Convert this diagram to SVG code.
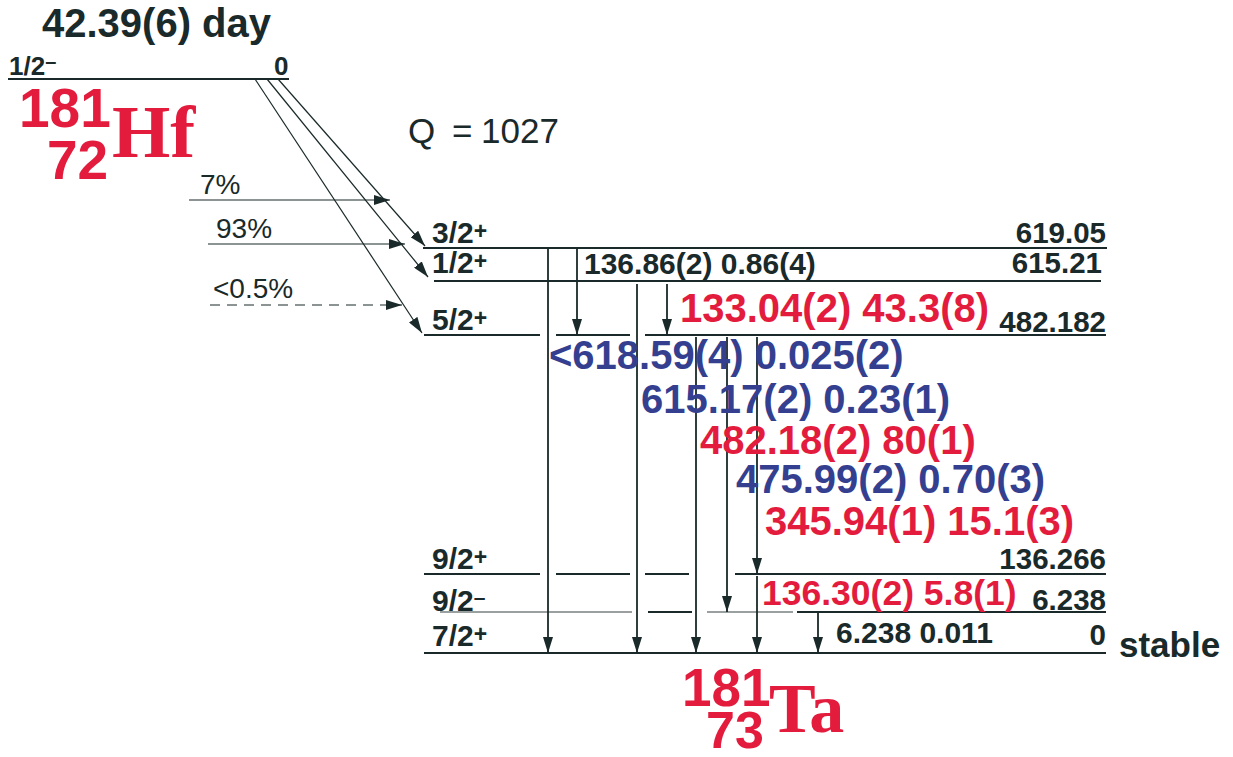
<svg xmlns="http://www.w3.org/2000/svg" width="1233" height="757" viewBox="0 0 1233 757">
<defs>
<marker id="ah" markerUnits="userSpaceOnUse" markerWidth="16" markerHeight="10" refX="16" refY="5" orient="auto"><path d="M0,0 L16,5 L0,10 z" fill="#1a2929"/></marker>
</defs>
<style>
.t{font-family:"Liberation Sans",Arial,sans-serif;font-weight:bold;fill:#1a2929}
.n{font-family:"Liberation Sans",Arial,sans-serif;font-weight:normal;fill:#1a2929}
.s{font-family:"Liberation Serif","Times New Roman",serif;font-weight:bold;fill:#e31c3d}
.r{fill:#e31c3d}
.b{fill:#353f90}
.lv{stroke:#1a2929;stroke-width:2;fill:none}
.lg{stroke:#7a8080;stroke-width:1.5;fill:none}
.g{stroke:#1a2929;stroke-width:1.8;fill:none;marker-end:url(#ah)}
.d{stroke:#1a2929;stroke-width:1.2;fill:none;marker-end:url(#ah)}
</style>
<rect width="1233" height="757" fill="#ffffff"/>

<g id="parent">
<text class="t" x="42" y="37" font-size="40">42.39(6) day</text>
<path class="lv" d="M8,79 H289"/>
<text class="t" x="9" y="75" font-size="26">1/2<tspan font-size="20" dy="-7">–</tspan></text>
<text class="t" x="274" y="75" font-size="26">0</text>
<text class="t r" x="19" y="127" font-size="55">181</text>
<text class="t r" x="47" y="179" font-size="55">72</text>
<text class="s" x="112" y="157" font-size="75">Hf</text>
</g>

<g id="qvalue">
<text class="n" y="143" font-size="35"><tspan x="408">Q</tspan><tspan x="452">=</tspan><tspan x="481">1027</tspan></text>
</g>

<g id="branches">
<text class="n" x="200" y="194" font-size="28">7%</text>
<text class="n" x="216" y="238" font-size="28">93%</text>
<text class="n" x="213" y="298" font-size="28">&lt;0.5%</text>
</g>

<g id="level-619">
<path class="lv" d="M423,248 H1107"/>
<text class="t" x="432" y="243" font-size="30">3/2<tspan font-size="23" dy="-4">+</tspan></text>
<text class="t" x="1106" y="243" font-size="29.5" text-anchor="end">619.05</text>
</g>
<g id="level-615">
<path class="lv" d="M434,281 H1101"/>
<text class="t" x="432" y="273" font-size="30">1/2<tspan font-size="23" dy="-4">+</tspan></text>
<text class="t" x="1102" y="273" font-size="29.5" text-anchor="end">615.21</text>
</g>
<g id="level-482">
<path class="lv" d="M424,335 H540 M556,335 H630 M645,335 H1106"/>
<text class="t" x="432" y="330" font-size="30">5/2<tspan font-size="23" dy="-4">+</tspan></text>
<text class="t" x="1106" y="332" font-size="29.5" text-anchor="end">482.182</text>
</g>
<g id="level-136">
<path class="lv" d="M424,574 H540 M556,574 H630 M645,574 H689 M735,574 H1106"/>
<text class="t" x="432" y="569" font-size="30">9/2<tspan font-size="23" dy="-4">+</tspan></text>
<text class="t" x="1106" y="569" font-size="29.5" text-anchor="end">136.266</text>
</g>
<g id="level-6">
<path class="lg" d="M440,612 H632 M707,612 H793"/>
<path class="lv" d="M648,612 H692 M797,612 H1106"/>
<text class="t" x="432" y="611" font-size="30">9/2<tspan font-size="21" dy="-7">–</tspan></text>
<text class="t" x="1106" y="610" font-size="29.5" text-anchor="end">6.238</text>
</g>
<g id="level-0">
<path class="lv" d="M424,653 H1106"/>
<text class="t" x="432" y="646" font-size="30">7/2<tspan font-size="23" dy="-4">+</tspan></text>
<text class="t" x="1106" y="645" font-size="29.5" text-anchor="end">0</text>
<text class="t" x="1119" y="657" font-size="35">stable</text>
</g>

<g id="daughter">
<text class="t r" x="682" y="706" font-size="53">181</text>
<text class="t r" x="706" y="748" font-size="52">73</text>
<text class="s" x="769" y="732" font-size="70">Ta</text>
</g>

<g id="connectors">
<path class="d" d="M278,79 L425,246"/>
<path class="d" d="M267,79 L428,277"/>
<path class="d" d="M255,79 L422,333"/>
<path class="d" d="M189,200 H390"/>
<path class="d" d="M208,244 H405"/>
<path class="d" d="M210,305 H402" stroke-dasharray="10,7"/>
<path class="g" d="M548,248 V653"/>
<path class="g" d="M577,248 V335"/>
<path class="g" d="M637,284 V653"/>
<path class="g" d="M667,284 V335"/>
<path class="g" d="M696,337 V653"/>
<path class="g" d="M727,337 V612"/>
<path class="g" d="M757,337 V574"/>
<path class="g" d="M757,576 V653"/>
<path class="g" d="M818,613 V653"/>
</g>

<g id="gamma-labels">
<text class="t" x="584" y="274" font-size="30">136.86(2) 0.86(4)</text>
<text class="t r" x="680" y="322" font-size="40">133.04(2) 43.3(8)</text>
<text class="t b" x="549" y="369" font-size="40">&lt;618.59(4) 0.025(2)</text>
<text class="t b" x="641" y="413" font-size="40">615.17(2) 0.23(1)</text>
<text class="t r" x="700" y="454" font-size="40">482.18(2) 80(1)</text>
<text class="t b" x="736" y="493" font-size="40">475.99(2) 0.70(3)</text>
<text class="t r" x="765" y="535" font-size="40">345.94(1) 15.1(3)</text>
<text class="t r" x="762" y="605" font-size="35.5">136.30(2) 5.8(1)</text>
<text class="t" x="836" y="643" font-size="30">6.238 0.011</text>
</g>
</svg>
